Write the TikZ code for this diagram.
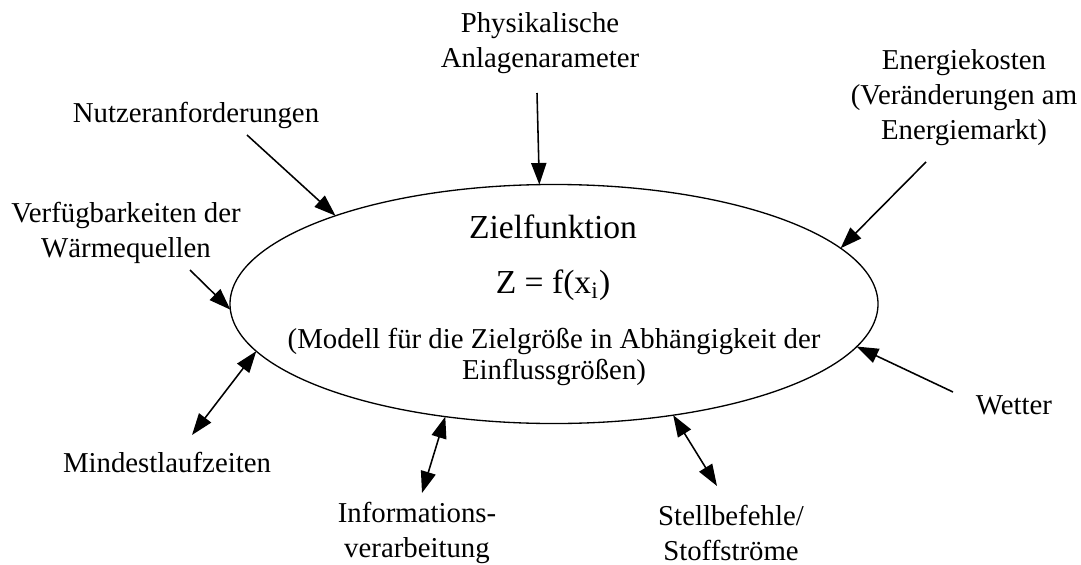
\documentclass[tikz,border=0pt]{standalone}
\usepackage{fontspec}
\setmainfont{Liberation Serif}
\usetikzlibrary{arrows.meta,shapes.geometric}
\begin{document}
\begin{tikzpicture}[x=0.41667pt,y=-0.41667pt,
  lbl/.style={align=center,font=\fontsize{12}{14.6}\selectfont,inner sep=0pt},
  tip/.tip={Triangle[length=9pt,width=6.3pt]},
  arr/.style={line width=0.65pt,-tip},
  darr/.style={line width=0.65pt,tip-tip},
  ]
\useasboundingbox (0,0) rectangle (1081,565);

% central ellipse
\node[draw, ellipse, line width=0.55pt, minimum width=270pt, minimum height=99.6pt,
      inner sep=0pt, outer sep=0pt] (ell) at (554,304) {};
\node[font=\fontsize{14}{16}\selectfont, inner sep=0pt] (zf) at (553,227) {Zielfunktion};
\node[font=\fontsize{14}{16}\selectfont, inner sep=0pt] (zx) at (553,285) {Z = f(x\textsubscript{i})};
\node[align=center, font=\fontsize{12}{13}\selectfont, inner sep=0pt] (mod) at (554,357)
  {(Modell für die Zielgröße in Abhängigkeit der\\Einflussgrößen)};

% labels
\node[lbl] (phys) at (540,43) {Physikalische\\Anlagenarameter};
\node[lbl] (nutz) at (196,115) {Nutzeranforderungen};
\node[lbl] (energ) at (964,98) {Energiekosten\\(Veränderungen am\\Energiemarkt)};
\node[lbl] (verf) at (126,233) {Verfügbarkeiten der\\Wärmequellen};
\node[lbl] (mind) at (167,462) {Mindestlaufzeiten};
\node[lbl] (wet) at (1014,405) {Wetter};
\node[lbl] (info) at (417,533) {Informations-\\verarbeitung};
\node[lbl] (stell) at (731,533) {Stellbefehle/\\Stoffströme};

% arrow ends near labels
\coordinate (physA) at (537,93);
\coordinate (nutzA) at (247,135);
\coordinate (energA) at (926,162);
\coordinate (verfA) at (190,270);
\coordinate (mindA) at (192,435);
\coordinate (wetA) at (953,392);
\coordinate (infoA) at (422,493);
\coordinate (stellA) at (717,486);

% connectors
\draw[arr] (physA) -- (ell.97);
\draw[arr] (nutzA) -- (ell.158.9);
\draw[arr] (energA) -- (ell.11.4);
\draw[arr] (verfA) -- (ell.181);
\draw[arr] (wetA) -- (ell.352.6);
\draw[darr] (mindA) -- (ell.189);
\draw[darr] (infoA) -- (ell.226);
\draw[darr] (stellA) -- (ell.317.7);
\end{tikzpicture}
\end{document}
